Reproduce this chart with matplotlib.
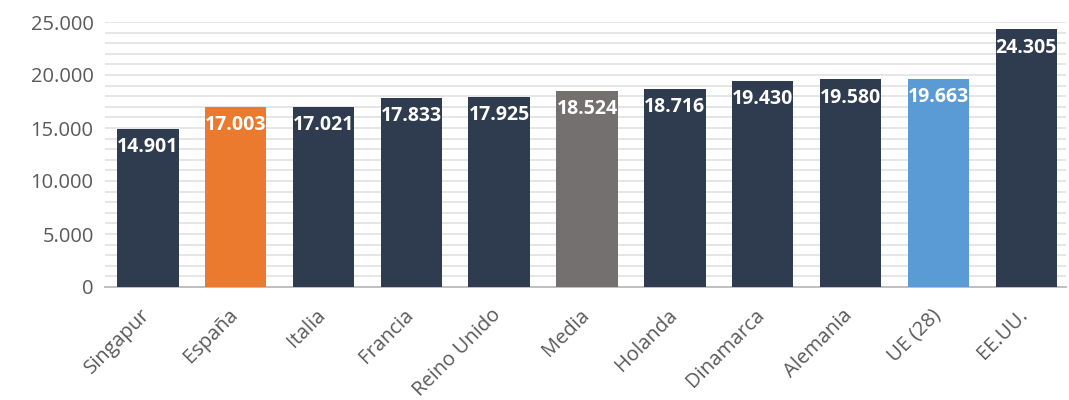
import numpy as np
import matplotlib.pyplot as plt
from matplotlib.ticker import FuncFormatter, MultipleLocator
from matplotlib.transforms import ScaledTranslation

paises = ['Singapur', 'España', 'Italia', 'Francia', 'Reino Unido', 'Media',
          'Holanda', 'Dinamarca', 'Alemania', 'UE (28)', 'EE.UU.']
valores = [14901, 17003, 17021, 17833, 17925, 18524, 18716, 19430, 19580, 19663, 24305]

navy = '#2F3B4E'
colores = [navy, '#EC7A2E', navy, navy, navy, '#757070', navy, navy, navy, '#5B9BD5', navy]

def miles(v, pos=None):
    return f'{int(v):,}'.replace(',', '.')

plt.rcParams['font.family'] = ['Open Sans', 'DejaVu Sans']

fig = plt.figure(figsize=(10.69, 4.0), dpi=100)
ax = fig.add_axes([0.098, 0.2825, 0.899, 0.6625])

x = np.arange(len(paises))
bars = ax.bar(x, valores, width=0.7, color=colores, zorder=3)

for b, v in zip(bars, valores):
    ax.annotate(miles(v), (b.get_x() + b.get_width() / 2, v),
                xytext=(0, -6), textcoords='offset points',
                ha='center', va='top', color='white',
                fontsize=14, fontweight='bold', zorder=4)

ax.set_xlim(-0.49, 10.45)
ax.set_ylim(0, 25000)
ax.yaxis.set_major_locator(MultipleLocator(5000))
ax.yaxis.set_minor_locator(MultipleLocator(1000))
ax.yaxis.set_major_formatter(FuncFormatter(miles))
ax.grid(axis='y', which='both', color='#E6E6E6', linewidth=1.4, zorder=0)

for s in ['top', 'right', 'left']:
    ax.spines[s].set_visible(False)
ax.spines['bottom'].set_color('#BFBFBF')
ax.spines['bottom'].set_linewidth(1.4)

ax.tick_params(axis='y', which='both', length=0, pad=8, labelsize=14.5, labelcolor='#595959')
ax.tick_params(axis='x', length=0, pad=13, labelsize=14.5, labelcolor='#595959')
ax.set_xticks(x)
ax.set_xticklabels(paises, rotation=45, ha='right', rotation_mode='anchor')

# nudge the rotated labels so their ends sit under the bar centres
shift = ScaledTranslation(-8 / 100, 0, fig.dpi_scale_trans)
for lbl in ax.get_xticklabels():
    lbl.set_transform(lbl.get_transform() + shift)

fig.savefig('out.png', dpi=100)
